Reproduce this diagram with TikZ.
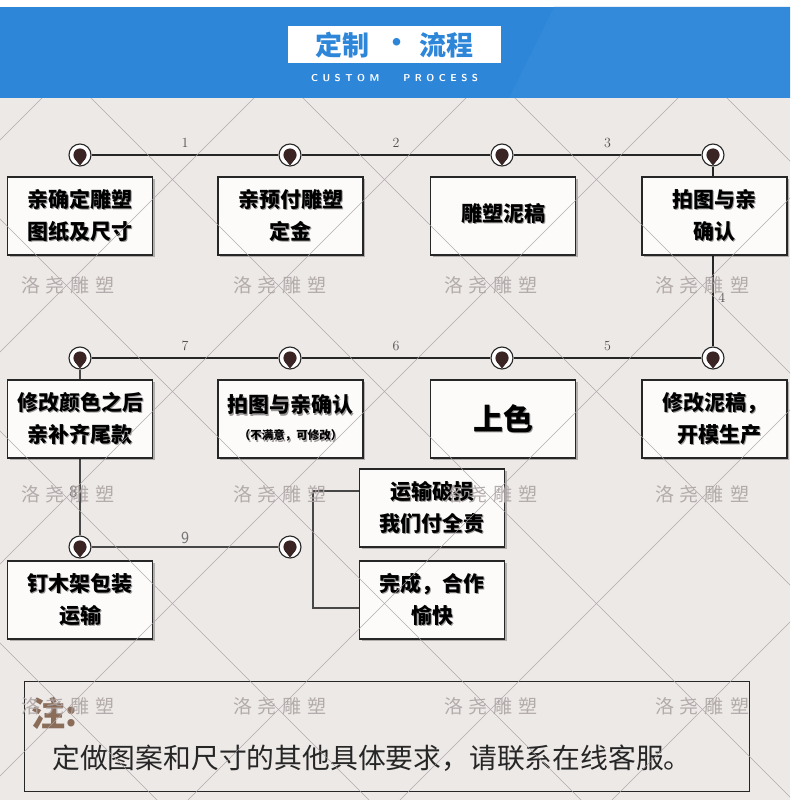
\documentclass[tikz,border=0pt]{standalone}
\usepackage{fontspec}
\usetikzlibrary{shadows}
\newfontfamily\cjk{Noto Sans CJK SC}
\definecolor{bandblue}{HTML}{2E86D9}
\definecolor{bandlight}{HTML}{338ADB}
\definecolor{paper}{HTML}{EDE9E7}
\definecolor{gridc}{HTML}{A8A2A2}
\definecolor{ink}{HTML}{262626}
\definecolor{wmc}{HTML}{ADA5A5}
\definecolor{pinc}{HTML}{3A2424}
\definecolor{notebrown}{HTML}{8B6C58}
\definecolor{lblc}{HTML}{505050}
\definecolor{boxfill}{HTML}{FCFBF9}
\definecolor{shadowc}{HTML}{9A9696}
\pgfdeclarelayer{back}
\pgfdeclarelayer{bg}
\pgfsetlayers{back,bg,main}
\newcommand\boxfont{\cjk\bfseries\fontsize{21}{32}\selectfont}
\newcommand\tsh[1]{\leavevmode\rlap{\kern1.4pt\raisebox{-1.4pt}{\color{shadowc}#1}}#1}
\newcommand\gp{\hspace{4.5pt}}
\begin{document}
\begin{tikzpicture}[x=1pt,y=-1pt,
  stepbox/.style={draw=ink, line width=1.3pt, fill=boxfill, minimum width=145pt,
    minimum height=78pt, inner sep=0pt, align=center, font=\boxfont,
    drop shadow={shadow xshift=2pt, shadow yshift=-2pt, fill=black, opacity=0.25}},
  pin/.style={circle, draw=ink, line width=1.1pt, fill=white, minimum size=22pt, inner sep=0pt,
    path picture={
      \fill[pinc] (path picture bounding box.center) circle (6.6pt);
      \fill[pinc] ([shift={(-5pt,-4.2pt)}]path picture bounding box.center)
        -- ([shift={(5pt,-4.2pt)}]path picture bounding box.center)
        -- ([shift={(0pt,-10.5pt)}]path picture bounding box.center) -- cycle;
    }},
  mainline/.style={draw=ink, line width=2.8pt},
  thinline/.style={draw=ink!85, line width=1.3pt},
  numlbl/.style={text=lblc, inner sep=0pt, font=\fontsize{14}{14}\selectfont},
  sanslbl/.style={text=lblc!80, inner sep=0pt, font=\sffamily\fontsize{17}{17}\selectfont},
  gridl/.style={draw=gridc, line width=0.6pt, opacity=0.85},
  wmark/.style={text=wmc, inner sep=0pt, font=\cjk\fontsize{19}{19}\selectfont, opacity=0.9}
]
\useasboundingbox (0,0) rectangle (790,800);
% header and paper
\begin{pgfonlayer}{back}
\fill[white] (0,0) rectangle (790,800);
\fill[bandblue] (0,7) rectangle (790,98);
\fill[bandlight] (554,7) -- (790,7) -- (790,98) -- (509,98) -- cycle;
\fill[paper] (0,98) rectangle (790,800);
\end{pgfonlayer}
\node[fill=white, minimum width=213pt, minimum height=37pt, inner sep=0pt] (titlebox) at (394.5,44.5) {};
\node[text=bandblue, inner sep=0pt, font=\cjk\bfseries\fontsize{27}{27}\selectfont] (t1) at (342,45) {定制};
\node[text=bandblue, inner sep=0pt, font=\cjk\bfseries\fontsize{27}{27}\selectfont] (t2) at (397,45) {·};
\node[text=bandblue, inner sep=0pt, font=\cjk\bfseries\fontsize{27}{27}\selectfont] (t3) at (446,45) {流程};
\node[text=white, inner sep=0pt, font=\sffamily\bfseries\fontsize{10}{10}\selectfont] (sub) at (394.5,78)
  {C\gp U\gp S\gp T\gp O\gp M\hspace{24pt}P\gp R\gp O\gp C\gp E\gp S\gp S};

% pins
\node[pin] (p1) at (80,155) {};
\node[pin] (p2) at (290,155) {};
\node[pin] (p3) at (502,155) {};
\node[pin] (p4) at (713,155) {};
\node[pin] (q1) at (80,358) {};
\node[pin] (q2) at (290,358) {};
\node[pin] (q3) at (502,358) {};
\node[pin] (q4) at (713,358) {};
\node[pin] (r1) at (80,547) {};
\node[pin] (r2) at (290,547) {};

% boxes
\node[stepbox] (b1) at (80,216) {\tsh{亲确定雕塑}\\\tsh{图纸及尺寸}};
\node[stepbox] (b2) at (290.5,216) {\tsh{亲预付雕塑}\\\tsh{定金}};
\node[stepbox] (b3) at (503,216) {\raisebox{8pt}{\tsh{雕塑泥稿}}};
\node[stepbox] (b4) at (714.5,216) {\tsh{拍图与亲}\\\tsh{确认}};
\node[stepbox] (c1) at (80,419) {\tsh{修改颜色之后}\\\tsh{亲补齐尾款}};
\node[stepbox] (c2) at (290.5,419) {\tsh{拍图与亲确认}\\[-5pt]{\fontsize{11.5}{12}\selectfont\tsh{（不满意，可修改）}}};
\node[stepbox, font=\cjk\bfseries\fontsize{30}{36}\selectfont] (c3) at (503,419) {\tsh{上色}};
\node[stepbox] (c4) at (714.5,419) {\tsh{修改泥稿，}\\\hspace{10pt}\tsh{开模生产}};
\node[stepbox] (d1) at (80,600) {\tsh{钉木架包装}\\\tsh{运输}};
\node[stepbox] (ys) at (432,508) {\tsh{运输破损}\\\tsh{我们付全责}};
\node[stepbox] (wc) at (432,600) {\tsh{完成，合作}\\\tsh{愉快}};

% note box
\node[draw=ink, line width=1pt, minimum width=725pt, minimum height=110pt, inner sep=0pt] (note) at (386.5,736) {};
\node[text=notebrown, anchor=west, inner sep=0pt, font=\cjk\bfseries\fontsize{34}{34}\selectfont] (zhu) at (31,713) {注:};
\node[text=ink, anchor=west, inner sep=0pt, font=\cjk\fontsize{27.8}{28}\selectfont] (notetxt) at (52,758)
  {定做图案和尺寸的其他具体要求，请联系在线客服。};

% connectors
\begin{pgfonlayer}{bg}
\draw[mainline] (p1) -- node[numlbl, above=6pt] (l1) {1} (p2);
\draw[mainline] (p2) -- node[numlbl, above=6pt] (l2) {2} (p3);
\draw[mainline] (p3) -- node[numlbl, above=6pt] (l3) {3} (p4);
\draw[mainline] (p4) -- node[numlbl, right=4pt, pos=0.73] (l4) {4} (q4);
\draw[mainline] (q4) -- node[numlbl, above=6pt] (l5) {5} (q3);
\draw[mainline] (q3) -- node[numlbl, above=6pt] (l6) {6} (q2);
\draw[mainline] (q2) -- node[numlbl, above=6pt] (l7) {7} (q1);
\draw[thinline] (q1) -- node[sanslbl, left=2pt, pos=0.74] (l8) {8} (r1);
\draw[thinline] (r1) -- node[sanslbl, above=3pt] (l9) {9} (r2);
\draw[thinline] ([yshift=17pt]ys.west) -- ++(-46,0) |- ([yshift=-8pt]wc.west);
\end{pgfonlayer}

% overlay grid and watermarks
\begin{scope}
\clip (0,98) rectangle (790,800);
\foreach \k in {-5,...,4}{\draw[gridl] ({205+212*\k-100},-100) -- ({205+212*\k+900},900);}
\foreach \k in {0,...,8}{\draw[gridl] ({140+212*\k+100},-100) -- ({140+212*\k-900},900);}
\end{scope}
\foreach \x/\nm in {68/a,280/b,491/c,702/d}{
  \foreach \y/\mm in {285/1,494/2,706/3}{
    \node[wmark] (wm-\nm\mm) at (\x,\y) {洛\hspace{6pt}尧\hspace{6pt}雕\hspace{6pt}塑};
  }
}
\end{tikzpicture}
\end{document}
